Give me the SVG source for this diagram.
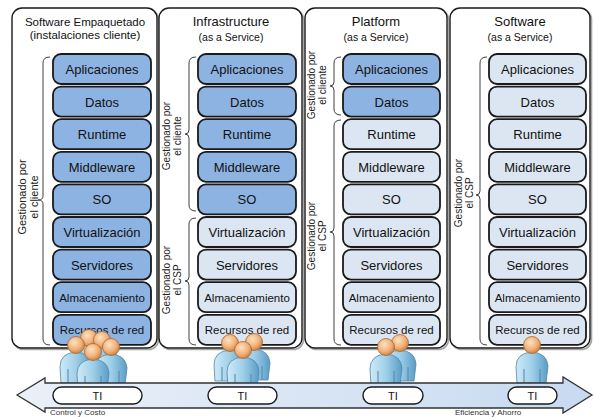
<svg xmlns="http://www.w3.org/2000/svg" width="594" height="417" viewBox="0 0 594 417">
  <defs>
    <style>
      .col { fill: #ffffff; stroke: #1a1a1a; stroke-width: 1.4; }
      .colsh { fill: none; stroke: #a6a6a6; stroke-width: 1.6; }
      .dk { fill: #8db3e2; stroke: #1a1a1a; stroke-width: 1.8; }
      .lt { fill: #dce6f2; stroke: #1a1a1a; stroke-width: 1.8; }
      .bl { font-family: "Liberation Sans", Arial, sans-serif; font-size: 13px; fill: #111; text-anchor: middle; }
      .sm { font-size: 11.5px; }
      .h1 { font-family: "Liberation Sans", Arial, sans-serif; font-size: 13px; fill: #111; text-anchor: middle; }
      .h2 { font-family: "Liberation Sans", Arial, sans-serif; font-size: 10.5px; fill: #111; text-anchor: middle; }
      .side { font-family: "Liberation Sans", Arial, sans-serif; font-size: 10px; fill: #222; text-anchor: middle; }
      .brace { fill: none; stroke: #404040; stroke-width: 1; }
      .pill { fill: #ffffff; stroke: #1a1a1a; stroke-width: 1.4; }
      .ti { font-family: "Liberation Sans", Arial, sans-serif; font-size: 11px; fill: #111; text-anchor: middle; }
      .foot { font-family: "Liberation Sans", Arial, sans-serif; font-size: 8px; fill: #333; }
    </style>
    <linearGradient id="arrowFill" x1="0" y1="0" x2="1" y2="0">
      <stop offset="0" stop-color="#eaf0f8"/>
      <stop offset="1" stop-color="#c8daf0"/>
    </linearGradient>
    <radialGradient id="headFill" cx="0.4" cy="0.35" r="0.7">
      <stop offset="0" stop-color="#fde2bd"/>
      <stop offset="0.6" stop-color="#f0b07a"/>
      <stop offset="1" stop-color="#c87a3a"/>
    </radialGradient>
    <linearGradient id="bodyFill" x1="0" y1="0" x2="1" y2="0">
      <stop offset="0" stop-color="#cfeaf7"/>
      <stop offset="0.5" stop-color="#9fcfe8"/>
      <stop offset="1" stop-color="#5b9cc6"/>
    </linearGradient>
    <g id="person">
      <path d="M-15,38 L-16,22 Q-16,8 0,7 Q15,8 16,21 L14,38 Z" fill="url(#bodyFill)" stroke="#4f86ad" stroke-width="0.8"/>
      <path d="M-8,24 L-8,38 M8,24 L8,38" stroke="#4f86ad" stroke-width="1" fill="none"/>
      <circle cx="0" cy="0" r="8.5" fill="url(#headFill)" stroke="#a9672f" stroke-width="0.8"/>
    </g>
  </defs>

  <!-- column frames -->
  <g id="frames">
    <rect class="colsh" x="13.5" y="9.5" width="145" height="340" rx="10"/>
    <rect class="col" x="12" y="8" width="145" height="340" rx="10"/>
    <rect class="colsh" x="160.5" y="9.5" width="143" height="340" rx="10"/>
    <rect class="col" x="159" y="8" width="143" height="340" rx="10"/>
    <rect class="colsh" x="306.5" y="9.5" width="142" height="340" rx="10"/>
    <rect class="col" x="305" y="8" width="142" height="340" rx="10"/>
    <rect class="colsh" x="451.5" y="9.5" width="140" height="340" rx="10"/>
    <rect class="col" x="450" y="8" width="140" height="340" rx="10"/>
  </g>

  <!-- headers -->
  <g id="headers">
    <text class="h1" x="85" y="26" style="font-size:11.5px">Software Empaquetado</text>
    <text class="h1" x="85" y="39" style="font-size:11.5px">(instalaciones cliente)</text>
    <text class="h1" x="231" y="26">Infrastructure</text>
    <text class="h2" x="231" y="41">(as a Service)</text>
    <text class="h1" x="376" y="26">Platform</text>
    <text class="h2" x="376" y="41">(as a Service)</text>
    <text class="h1" x="520" y="26">Software</text>
    <text class="h2" x="520" y="41">(as a Service)</text>
  </g>

  <!-- Column 1: packaged software -->
  <g id="stack-onprem">
    <rect class="dk" x="53" y="54" width="98" height="30" rx="8"/><text class="bl" x="102" y="74">Aplicaciones</text>
    <rect class="dk" x="53" y="86.6" width="98" height="30" rx="8"/><text class="bl" x="102" y="106.6">Datos</text>
    <rect class="dk" x="53" y="119.2" width="98" height="30" rx="8"/><text class="bl" x="102" y="139.2">Runtime</text>
    <rect class="dk" x="53" y="151.8" width="98" height="30" rx="8"/><text class="bl" x="102" y="171.8">Middleware</text>
    <rect class="dk" x="53" y="184.4" width="98" height="30" rx="8"/><text class="bl" x="102" y="204.4">SO</text>
    <rect class="dk" x="53" y="217" width="98" height="30" rx="8"/><text class="bl" x="102" y="237">Virtualización</text>
    <rect class="dk" x="53" y="249.6" width="98" height="30" rx="8"/><text class="bl" x="102" y="269.6">Servidores</text>
    <rect class="dk" x="53" y="282.2" width="98" height="30" rx="8"/><text class="bl sm" x="102" y="301.5">Almacenamiento</text>
    <rect class="dk" x="53" y="314.8" width="98" height="30" rx="8"/><text class="bl sm" x="102" y="334.1">Recursos de red</text>
  </g>

  <!-- Column 2: IaaS -->
  <g id="stack-iaas">
    <rect class="dk" x="198" y="54" width="98" height="30" rx="8"/><text class="bl" x="247" y="74">Aplicaciones</text>
    <rect class="dk" x="198" y="86.6" width="98" height="30" rx="8"/><text class="bl" x="247" y="106.6">Datos</text>
    <rect class="dk" x="198" y="119.2" width="98" height="30" rx="8"/><text class="bl" x="247" y="139.2">Runtime</text>
    <rect class="dk" x="198" y="151.8" width="98" height="30" rx="8"/><text class="bl" x="247" y="171.8">Middleware</text>
    <rect class="dk" x="198" y="184.4" width="98" height="30" rx="8"/><text class="bl" x="247" y="204.4">SO</text>
    <rect class="lt" x="198" y="217" width="98" height="30" rx="8"/><text class="bl" x="247" y="237">Virtualización</text>
    <rect class="lt" x="198" y="249.6" width="98" height="30" rx="8"/><text class="bl" x="247" y="269.6">Servidores</text>
    <rect class="lt" x="198" y="282.2" width="98" height="30" rx="8"/><text class="bl sm" x="247" y="301.5">Almacenamiento</text>
    <rect class="lt" x="198" y="314.8" width="98" height="30" rx="8"/><text class="bl sm" x="247" y="334.1">Recursos de red</text>
  </g>

  <!-- Column 3: PaaS -->
  <g id="stack-paas">
    <rect class="dk" x="343" y="54" width="97" height="30" rx="8"/><text class="bl" x="391.5" y="74">Aplicaciones</text>
    <rect class="dk" x="343" y="86.6" width="97" height="30" rx="8"/><text class="bl" x="391.5" y="106.6">Datos</text>
    <rect class="lt" x="343" y="119.2" width="97" height="30" rx="8"/><text class="bl" x="391.5" y="139.2">Runtime</text>
    <rect class="lt" x="343" y="151.8" width="97" height="30" rx="8"/><text class="bl" x="391.5" y="171.8">Middleware</text>
    <rect class="lt" x="343" y="184.4" width="97" height="30" rx="8"/><text class="bl" x="391.5" y="204.4">SO</text>
    <rect class="lt" x="343" y="217" width="97" height="30" rx="8"/><text class="bl" x="391.5" y="237">Virtualización</text>
    <rect class="lt" x="343" y="249.6" width="97" height="30" rx="8"/><text class="bl" x="391.5" y="269.6">Servidores</text>
    <rect class="lt" x="343" y="282.2" width="97" height="30" rx="8"/><text class="bl sm" x="391.5" y="301.5">Almacenamiento</text>
    <rect class="lt" x="343" y="314.8" width="97" height="30" rx="8"/><text class="bl sm" x="391.5" y="334.1">Recursos de red</text>
  </g>

  <!-- Column 4: SaaS -->
  <g id="stack-saas">
    <rect class="lt" x="489" y="54" width="97" height="30" rx="8"/><text class="bl" x="537.5" y="74">Aplicaciones</text>
    <rect class="lt" x="489" y="86.6" width="97" height="30" rx="8"/><text class="bl" x="537.5" y="106.6">Datos</text>
    <rect class="lt" x="489" y="119.2" width="97" height="30" rx="8"/><text class="bl" x="537.5" y="139.2">Runtime</text>
    <rect class="lt" x="489" y="151.8" width="97" height="30" rx="8"/><text class="bl" x="537.5" y="171.8">Middleware</text>
    <rect class="lt" x="489" y="184.4" width="97" height="30" rx="8"/><text class="bl" x="537.5" y="204.4">SO</text>
    <rect class="lt" x="489" y="217" width="97" height="30" rx="8"/><text class="bl" x="537.5" y="237">Virtualización</text>
    <rect class="lt" x="489" y="249.6" width="97" height="30" rx="8"/><text class="bl" x="537.5" y="269.6">Servidores</text>
    <rect class="lt" x="489" y="282.2" width="97" height="30" rx="8"/><text class="bl sm" x="537.5" y="301.5">Almacenamiento</text>
    <rect class="lt" x="489" y="314.8" width="97" height="30" rx="8"/><text class="bl sm" x="537.5" y="334.1">Recursos de red</text>
  </g>

  <!-- responsibility braces and labels -->
  <g id="braces">
    <path class="brace" d="M50,57 Q43,57 43,63 L43,196 Q43,200 38,200 Q43,200 43,204 L43,339 Q43,345 50,345"/>
    <path class="brace" d="M196,57 Q189,57 189,63 L189,130 Q189,134 185,134 Q189,134 189,138 L189,205 Q189,211 196,211"/>
    <path class="brace" d="M196,218 Q189,218 189,224 L189,277 Q189,281 185,281 Q189,281 189,285 L189,339 Q189,345 196,345"/>
    <path class="brace" d="M341,57 Q334,57 334,63 L334,82 Q334,86 330,86 Q334,86 334,90 L334,109 Q334,115 341,115"/>
    <path class="brace" d="M341,120 Q334,120 334,126 L334,228 Q334,232 330,232 Q334,232 334,236 L334,339 Q334,345 341,345"/>
    <path class="brace" d="M487,57 Q480,57 480,63 L480,191 Q480,195 476,195 Q480,195 480,199 L480,339 Q480,345 487,345"/>
  </g>
  <g id="side-labels">
    <g transform="translate(26,197) rotate(-90)"><text class="side" x="0" y="0" style="font-size:11px">Gestionado por</text><text class="side" x="0" y="12" style="font-size:11px">el cliente</text></g>
    <g transform="translate(170,136) rotate(-90)"><text class="side" x="0" y="0">Gestionado por</text><text class="side" x="0" y="11">el cliente</text></g>
    <g transform="translate(170,280) rotate(-90)"><text class="side" x="0" y="0">Gestionado por</text><text class="side" x="0" y="11">el CSP</text></g>
    <g transform="translate(315,85) rotate(-90)"><text class="side" x="0" y="0">Gestionado por</text><text class="side" x="0" y="11">el cliente</text></g>
    <g transform="translate(315,236) rotate(-90)"><text class="side" x="0" y="0">Gestionado por</text><text class="side" x="0" y="11">el CSP</text></g>
    <g transform="translate(462,193) rotate(-90)"><text class="side" x="0" y="0">Gestionado por</text><text class="side" x="0" y="11">el CSP</text></g>
  </g>

  <!-- IT staff per model -->
  <g id="people">
    <use href="#person" x="89" y="338"/>
    <use href="#person" x="102" y="340"/>
    <use href="#person" x="76" y="345"/>
    <use href="#person" x="111" y="347"/>
    <use href="#person" x="93" y="352"/>
    <use href="#person" x="230" y="343"/>
    <use href="#person" x="254" y="342"/>
    <use href="#person" x="243" y="350"/>
    <use href="#person" x="400" y="343"/>
    <use href="#person" x="386" y="347"/>
    <use href="#person" x="532" y="345"/>
  </g>

  <!-- control / efficiency axis -->
  <g id="axis">
    <path d="M17,395 L45,378 L45,383 L563,383 L563,377 L592,395 L563,413 L563,408 L45,408 L45,412 Z" fill="url(#arrowFill)" stroke="#333" stroke-width="1.3" stroke-linejoin="miter"/>
    <rect class="pill" x="53" y="387" width="89" height="17" rx="8.5"/><text class="ti" x="97.5" y="399.5">TI</text>
    <rect class="pill" x="208" y="387" width="69" height="17" rx="8.5"/><text class="ti" x="242.5" y="399.5">TI</text>
    <rect class="pill" x="363" y="387" width="60" height="17" rx="8.5"/><text class="ti" x="393" y="399.5">TI</text>
    <rect class="pill" x="508" y="387" width="49" height="17" rx="8.5"/><text class="ti" x="532.5" y="399.5">TI</text>
    <text class="foot" x="50" y="415">Control y Costo</text>
    <text class="foot" x="455" y="415">Eficiencia y Ahorro</text>
  </g>
</svg>
